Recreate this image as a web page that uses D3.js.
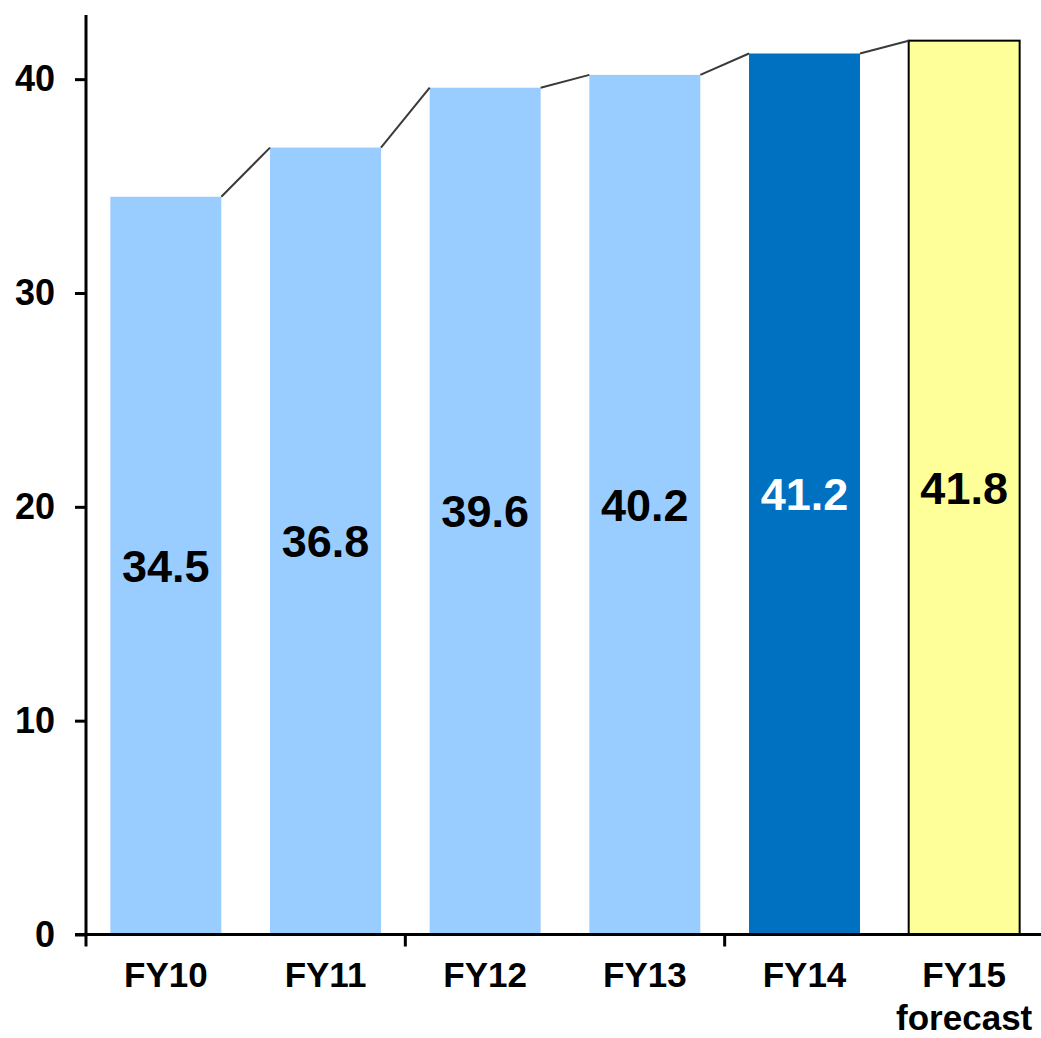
<!DOCTYPE html>
<html>
<head>
<meta charset="utf-8">
<script src="https://cdn.jsdelivr.net/npm/d3@7"></script>
<style>
  html, body { margin: 0; padding: 0; background: #fff; }
  svg { display: block; font-family: "Liberation Sans", Arial, sans-serif; }
</style>
</head>
<body>
<svg id="chart" width="1041" height="1038"></svg>
<script>
// Fiscal years and values
const categories = ["FY10", "FY11", "FY12", "FY13", "FY14", "FY15"];
const categorySubLabels = ["", "", "", "", "", "forecast"];
const values = [34.5, 36.8, 39.6, 40.2, 41.2, 41.8];
const barKinds = ["actual", "actual", "actual", "actual", "latest", "forecast"];
const yTicks = [0, 10, 20, 30, 40];

const fills = { actual: "#99CCFF", latest: "#0070C0", forecast: "#FFFF99" };
const labelColors = { actual: "#000", latest: "#fff", forecast: "#000" };

const svg = d3.select("#chart");
const plotLeft = 86, plotRight = 1044, plotTop = 15, plotBottom = 934.5;

const x = d3.scaleBand().domain(categories).range([plotLeft, plotRight])
  .paddingInner(0.305).paddingOuter(0.1525);
const y = d3.scaleLinear().domain([0, 43]).range([plotBottom, plotTop]);

const data = categories.map((c, i) => ({ cat: c, sub: categorySubLabels[i], value: values[i], kind: barKinds[i] }));

// Bars
svg.append("g").selectAll("rect").data(data).join("rect")
  .attr("x", d => x(d.cat))
  .attr("y", d => y(d.value))
  .attr("width", x.bandwidth())
  .attr("height", d => y(0) - y(d.value))
  .attr("fill", d => fills[d.kind])
  .attr("stroke", d => d.kind === "forecast" ? "#000" : "none")
  .attr("stroke-width", 2);

// Connectors between adjacent bar tops
const pairs = d3.pairs(data);
svg.append("g").selectAll("line").data(pairs).join("line")
  .attr("x1", d => x(d[0].cat) + x.bandwidth())
  .attr("y1", d => y(d[0].value))
  .attr("x2", d => x(d[1].cat))
  .attr("y2", d => y(d[1].value))
  .attr("stroke", "#3a3a3a")
  .attr("stroke-width", 2);

// Value labels at the middle of each bar
svg.append("g").selectAll("text").data(data).join("text")
  .attr("x", d => x(d.cat) + x.bandwidth() / 2)
  .attr("y", d => y(d.value / 2))
  .attr("dy", "0.36em")
  .attr("text-anchor", "middle")
  .attr("font-size", 45)
  .attr("font-weight", "bold")
  .attr("fill", d => labelColors[d.kind])
  .text(d => d.value.toFixed(1));

// Y axis
const yAxis = svg.append("g")
  .attr("transform", `translate(${plotLeft},0)`)
  .call(d3.axisLeft(y).tickValues(yTicks).tickSize(11).tickPadding(20).tickSizeOuter(0));
yAxis.select(".domain").attr("stroke", "#000").attr("stroke-width", 3)
  .attr("d", `M0,${plotTop}V${plotBottom}`);
yAxis.selectAll(".tick line").attr("stroke", "#000").attr("stroke-width", 3);
yAxis.selectAll(".tick text")
  .attr("font-size", 36).attr("font-weight", "bold").attr("fill", "#000")
  .attr("font-family", "Liberation Sans, Arial, sans-serif");

// X axis line
svg.append("line")
  .attr("x1", plotLeft - 11).attr("x2", plotRight + 10)
  .attr("y1", plotBottom).attr("y2", plotBottom)
  .attr("stroke", "#000").attr("stroke-width", 3);

// X tick marks every two categories, on band boundaries
const boundaryIdx = d3.range(0, categories.length + 1, 2);
svg.append("g").selectAll("line").data(boundaryIdx).join("line")
  .attr("x1", i => x.range()[0] + i * x.step())
  .attr("x2", i => x.range()[0] + i * x.step())
  .attr("y1", plotBottom).attr("y2", plotBottom + 12)
  .attr("stroke", "#000").attr("stroke-width", 3);

// Category labels
const xl = svg.append("g").selectAll("text").data(data).join("text")
  .attr("x", d => x(d.cat) + x.bandwidth() / 2)
  .attr("y", 987)
  .attr("text-anchor", "middle")
  .attr("font-size", 35)
  .attr("font-weight", "bold")
  .attr("fill", "#000");
xl.append("tspan").text(d => d.cat);
xl.filter(d => d.sub).append("tspan")
  .attr("x", d => x(d.cat) + x.bandwidth() / 2)
  .attr("dy", 43)
  .text(d => d.sub);
</script>
</body>
</html>
